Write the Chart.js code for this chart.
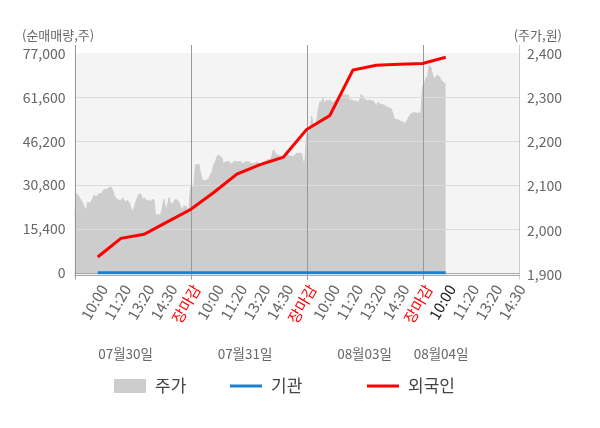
<!DOCTYPE html>
<html>
<head>
<meta charset="utf-8">
<script src="https://cdn.jsdelivr.net/npm/chart.js@4.4.0/dist/chart.umd.min.js"></script>
<style>
  html, body { margin: 0; padding: 0; background: #fff; }
  #wrap { width: 600px; height: 428px; position: relative; }
</style>
</head>
<body>
<div id="wrap"><canvas id="chart"></canvas></div>
<script>
const dayLabels = ['07월30일', '07월31일', '08월03일', '08월04일'];
const timeLabels = ['10:00', '11:20', '13:20', '14:30', '장마감'];
const volTitle = '(순매매량,주)';
const priceTitle = '(주가,원)';
const volTicks = [0, 15400, 30800, 46200, 61600, 77000];
const priceTicks = [1900, 2000, 2100, 2200, 2300, 2400];

// intraday price (주가), sampled evenly through each session
const priceDay1 = [
  2032, 2082, 2080, 2074, 2068, 2061, 2052, 2045, 2064, 2061,
  2064, 2072, 2080, 2074, 2080, 2083, 2083, 2087, 2093, 2091,
  2095, 2096, 2098, 2091, 2078, 2073, 2070, 2067, 2067, 2073,
  2068, 2064, 2068, 2062, 2052, 2042, 2052, 2064, 2074, 2082,
  2082, 2068, 2074, 2068, 2067, 2068, 2064, 2070, 2068, 2030,
  2036, 2035, 2034, 2053, 2070, 2049, 2055, 2074, 2058, 2061,
  2064, 2070, 2068, 2064, 2053, 2045, 2055, 2055, 2049, 2045,
];
const priceDay2 = [
  2098, 2098, 2098, 2148, 2148, 2150, 2130, 2114, 2112, 2112,
  2114, 2117, 2125, 2132, 2148, 2155, 2167, 2170, 2167, 2163,
  2148, 2155, 2155, 2155, 2153, 2148, 2155, 2155, 2155, 2155,
  2155, 2153, 2150, 2155, 2155, 2155, 2151, 2151, 2151, 2150,
  2155, 2151, 2151, 2151, 2155, 2155, 2159, 2160, 2160, 2167,
  2182, 2176, 2170, 2170, 2167, 2167, 2167, 2170, 2173, 2170,
  2167, 2168, 2167, 2170, 2174, 2174, 2174, 2174, 2155, 2155,
];
const priceDay3 = [
  2216, 2220, 2222, 2258, 2240, 2240, 2244, 2270, 2290, 2290,
  2299, 2284, 2295, 2292, 2295, 2292, 2288, 2292, 2295, 2299,
  2303, 2307, 2307, 2307, 2305, 2307, 2293, 2295, 2293, 2292,
  2293, 2288, 2295, 2307, 2303, 2295, 2295, 2292, 2295, 2292,
  2293, 2288, 2280, 2290, 2286, 2284, 2284, 2283, 2280, 2278,
  2276, 2275, 2265, 2252, 2250, 2250, 2248, 2246, 2245, 2242,
  2245, 2250, 2258, 2263, 2265, 2267, 2265, 2265, 2265, 2265,
];
const priceDay4 = [
  2326, 2329, 2345, 2345, 2372, 2370, 2352, 2341, 2348, 2350,
  2348, 2341, 2336, 2333, 2331,
];

// net buying at each time label, from the first 10:00 on
const foreignNet = [5550, 12100, 13500, 17900, 22200, 28200, 34700, 38000,
  40600, 50300, 55200, 71200, 72900, 73200, 73500, 75700];
const institutionNet = [0, 0, 0, 0, 0, 0, 0, 0, 0, 0, 0, 0, 0, 0, 0, 0];

const FONT = "'Noto Sans CJK KR', 'Noto Sans', sans-serif";
const SLOTS_PER_DAY = timeLabels.length;
const PRICE_STEP = SLOTS_PER_DAY / priceDay1.length;
const AXIS_END = 19.2;
const lastSlot = foreignNet.length;

const pricePoints = [];
[priceDay1, priceDay2, priceDay3, priceDay4].forEach((day, d) => {
  day.forEach((v, i) => pricePoints.push({ x: d * SLOTS_PER_DAY + i * PRICE_STEP, y: v }));
});
const foreignPoints = foreignNet.map((v, i) => ({ x: i + 1, y: v }));
const institutionPoints = institutionNet.map((v, i) => ({ x: i + 1, y: v }));

const xTickValues = [0];
for (let s = 1; s < AXIS_END; s++) xTickValues.push(s);
xTickValues.push(AXIS_END);

function slotLabel(v) {
  if (!Number.isInteger(v) || v < 1) return '';
  return timeLabels[(v - 1) % SLOTS_PER_DAY];
}

const fmt = v => v.toLocaleString('en-US');

const chartDecor = {
  id: 'chartDecor',
  beforeDatasetsDraw(chart) {
    const { ctx, chartArea: a, scales } = chart;
    const top = Math.round(scales.y.getPixelForValue(volTicks[volTicks.length - 1])) - 1;
    ctx.save();
    ctx.fillStyle = '#f4f4f4';
    ctx.fillRect(a.left, top, a.right - a.left, a.bottom - top);
    ctx.restore();
  },
  // grid goes over the price area but under the two lines
  afterDatasetDraw(chart, args) {
    if (args.index !== 0) return;
    const { ctx, chartArea: a, scales } = chart;
    ctx.save();
    ctx.lineWidth = 1;
    volTicks.slice(0, -1).forEach(v => {
      const y = Math.round(scales.y.getPixelForValue(v)) + 0.5;
      ctx.strokeStyle = v === 0 ? '#a8a8a8' : '#dcdcdc';
      ctx.beginPath(); ctx.moveTo(a.left, y); ctx.lineTo(a.right, y); ctx.stroke();
    });
    const vline = (x, color) => {
      ctx.strokeStyle = color;
      ctx.beginPath(); ctx.moveTo(x, a.top); ctx.lineTo(x, a.bottom + 5); ctx.stroke();
    };
    for (let s = SLOTS_PER_DAY; s < AXIS_END; s += SLOTS_PER_DAY) {
      vline(Math.round(scales.x.getPixelForValue(s)) + 0.5, '#999999');
    }
    vline(Math.round(a.left) + 0.5, '#999999');
    vline(Math.round(a.right) - 0.5, '#cccccc');
    ctx.strokeStyle = '#a8a8a8';
    const yb = Math.round(a.bottom) + 0.5;
    ctx.beginPath(); ctx.moveTo(a.left, yb); ctx.lineTo(a.right, yb); ctx.stroke();
    ctx.restore();
  },
  afterDraw(chart) {
    const { ctx, scales } = chart;
    ctx.save();
    ctx.fillStyle = '#666';
    ctx.textBaseline = 'middle';
    ctx.font = `13px ${FONT}`;
    ctx.textAlign = 'left';
    ctx.fillText(volTitle, 22, 35);
    ctx.textAlign = 'right';
    ctx.fillText(priceTitle, 562, 35);

    // day names under the time labels
    const dateSlots = [2.2, 7.35, 12.5, 15.8];
    ctx.font = `13.5px ${FONT}`;
    ctx.textAlign = 'center';
    dayLabels.forEach((d, i) => {
      ctx.fillText(d, scales.x.getPixelForValue(dateSlots[i]), 354);
    });

    // legend
    const legendX = [114, 230, 367];
    const ly = 386;
    ctx.font = `17px ${FONT}`;
    ctx.textAlign = 'left';
    chart.data.datasets.forEach((ds, i) => {
      const x = legendX[i];
      if (ds.fill) {
        ctx.fillStyle = ds.backgroundColor;
        ctx.fillRect(x, ly - 7, 32, 14);
      } else {
        ctx.strokeStyle = ds.borderColor;
        ctx.lineWidth = 3;
        ctx.beginPath(); ctx.moveTo(x, ly); ctx.lineTo(x + 32, ly); ctx.stroke();
      }
      ctx.fillStyle = '#444';
      ctx.fillText(ds.label, x + 41, ly);
    });
    ctx.restore();
  },
};

new Chart(document.getElementById('chart'), {
  type: 'line',
  data: {
    datasets: [
      {
        label: '주가',
        data: pricePoints,
        yAxisID: 'yPrice',
        fill: 'start',
        backgroundColor: '#cdcdcd',
        borderColor: '#cdcdcd',
        borderWidth: 1,
        pointRadius: 0,
        tension: 0,
        order: 3,
      },
      {
        label: '기관',
        data: institutionPoints,
        yAxisID: 'y',
        fill: false,
        borderColor: '#1c82cf',
        borderWidth: 3,
        pointRadius: 0,
        tension: 0,
        order: 2,
      },
      {
        label: '외국인',
        data: foreignPoints,
        yAxisID: 'y',
        fill: false,
        borderColor: '#ff0000',
        borderWidth: 3,
        pointRadius: 0,
        tension: 0,
        order: 1,
      },
    ],
  },
  options: {
    responsive: true,
    maintainAspectRatio: false,
    animation: false,
    layout: { padding: { top: 45, left: 0, right: 0, bottom: 0 } },
    plugins: { legend: { display: false }, tooltip: { enabled: false } },
    scales: {
      x: {
        type: 'linear',
        min: 0,
        max: AXIS_END,
        grid: { display: false, drawTicks: false },
        border: { display: false },
        afterBuildTicks: scale => { scale.ticks = xTickValues.map(value => ({ value })); },
        afterFit: scale => { scale.height = 153.5; },
        ticks: {
          autoSkip: false,
          minRotation: 60,
          maxRotation: 60,
          padding: 7,
          labelOffset: 6,
          font: { family: FONT, size: 15 },
          color: ctx => {
            const v = ctx.tick.value;
            if (slotLabel(v) === '장마감') return '#ff0000';
            if (v === lastSlot) return '#222222';
            return '#666666';
          },
          callback: v => slotLabel(v),
        },
      },
      y: {
        position: 'left',
        min: -600,
        max: 80000,
        grid: { display: false, drawTicks: false },
        border: { display: false },
        afterBuildTicks: scale => { scale.ticks = volTicks.map(value => ({ value })); },
        afterFit: scale => { scale.width = 74.5; },
        ticks: {
          padding: 9,
          font: { family: FONT, size: 14 },
          color: '#666666',
          callback: v => fmt(v),
        },
      },
      yPrice: {
        position: 'right',
        min: 1900,
        max: 2419,
        grid: { display: false, drawTicks: false },
        border: { display: false },
        afterBuildTicks: scale => { scale.ticks = priceTicks.map(value => ({ value })); },
        afterFit: scale => { scale.width = 80; },
        ticks: {
          padding: 7,
          font: { family: FONT, size: 14 },
          color: '#666666',
          callback: v => fmt(v),
        },
      },
    },
  },
  plugins: [chartDecor],
});
</script>
</body>
</html>
